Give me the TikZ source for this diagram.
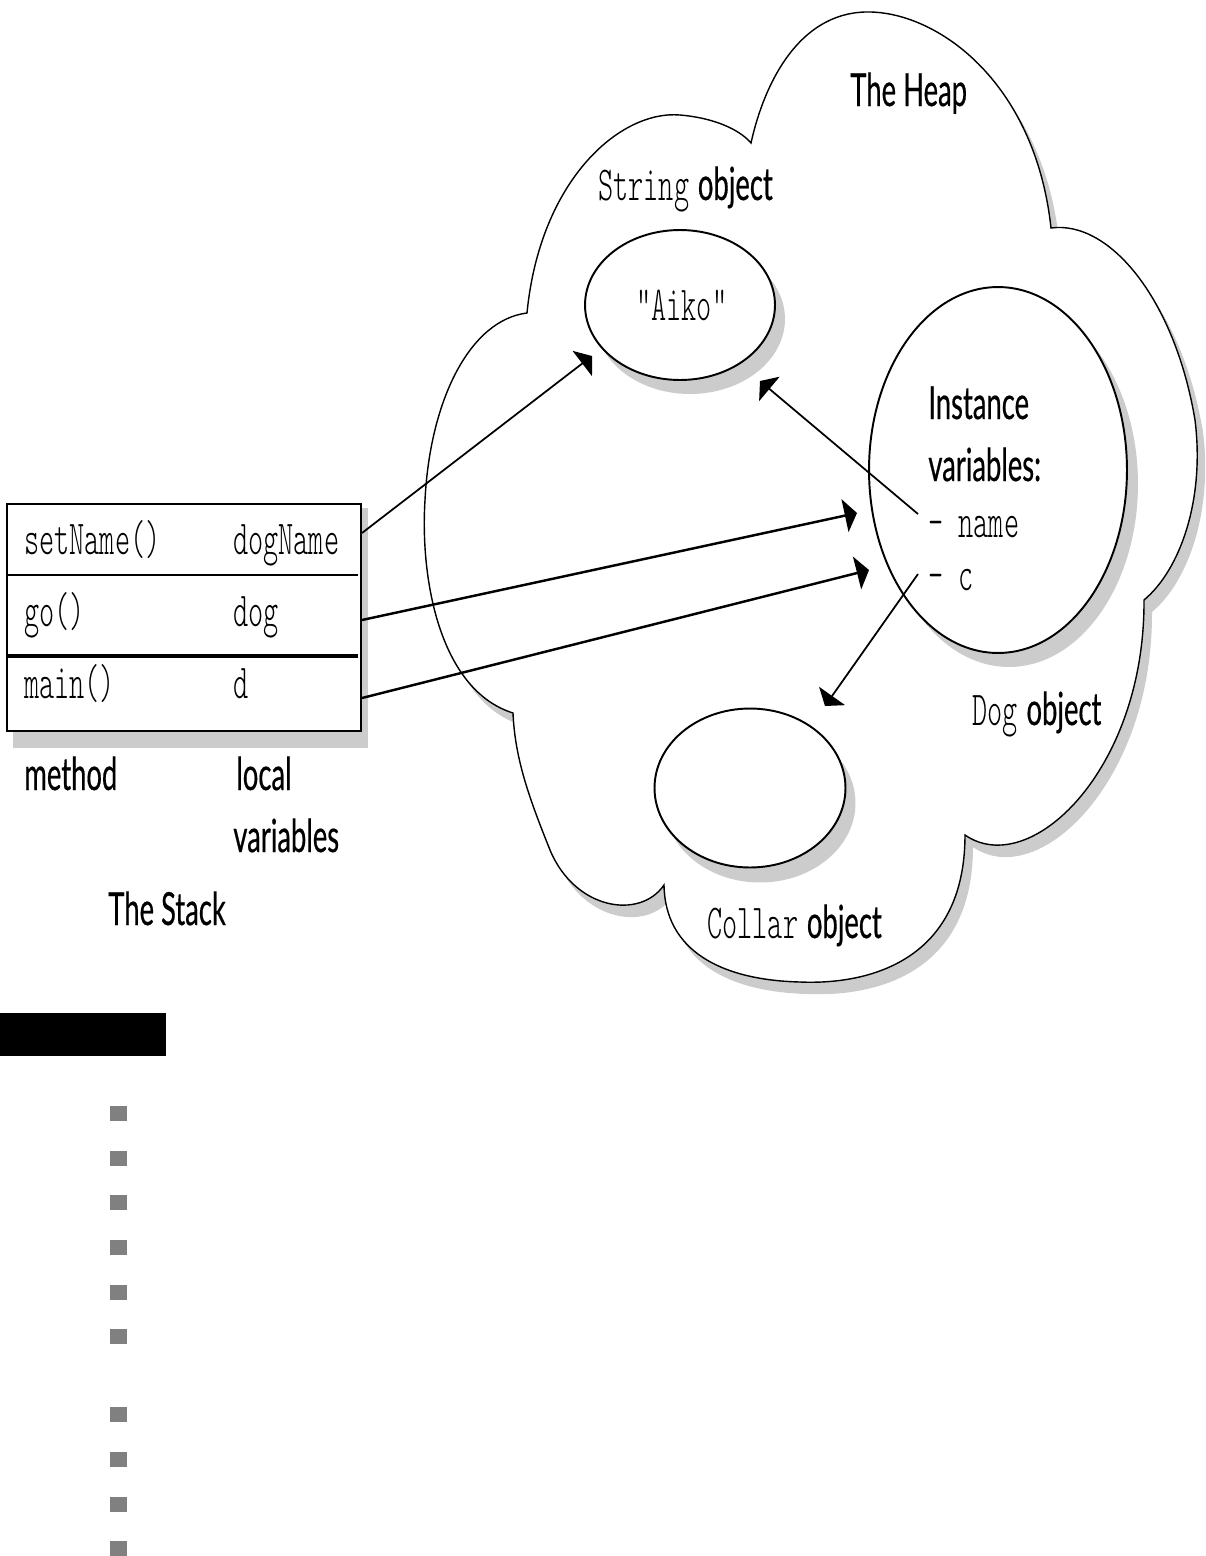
\documentclass[tikz,border=0pt]{standalone}
\usepackage{fontspec}
\setsansfont[FakeStretch=0.6, FakeBold=0.4]{Lato}
\setmonofont[FakeStretch=0.59]{lmmonolt10-regular.otf}
\usetikzlibrary{arrows.meta,shapes.geometric}
\definecolor{shadowgray}{gray}{0.8}
\definecolor{bulletgray}{gray}{0.5}
\def\cloudpath{(751,143) .. controls (765,80) and (800,14) .. (865,12)
 .. controls (935,10) and (1035,80) .. (1051,228)
 .. controls (1110,220) and (1175,300) .. (1195,420)
 .. controls (1205,500) and (1180,570) .. (1144,600)
 .. controls (1145,770) and (1030,880) .. (965,835)
 .. controls (965,960) and (870,985) .. (800,982)
 .. controls (720,980) and (665,950) .. (664,885)
 .. controls (640,920) and (575,910) .. (550,850)
 .. controls (530,800) and (515,760) .. (513,713)
 .. controls (440,690) and (420,580) .. (425,500)
 .. controls (430,400) and (470,320) .. (527,313)
 .. controls (540,180) and (620,110) .. (680,115)
 .. controls (715,118) and (740,130) .. (751,143) -- cycle}
\begin{document}
\begin{tikzpicture}[x=0.02cm,y=-0.02cm,
  sanslbl/.style={anchor=base west, inner sep=0, font={\sffamily\fontsize{26}{30}\selectfont}},
  monolbl/.style={anchor=base west, inner sep=0, font={\ttfamily\fontsize{27.8}{32}\selectfont}},
  objell/.style={ellipse, draw, fill=white, line width=1.1pt, inner sep=0},
  shadowell/.style={ellipse, fill=shadowgray, inner sep=0},
  ptr/.style={-{Triangle[length=7pt,width=18pt]}, line width=1pt},
  thickptr/.style={-{Triangle[length=7pt,width=19pt]}, line width=1.4pt},
  bullet/.style={fill=bulletgray, inner sep=0, minimum width=0.34cm, minimum height=0.3cm, anchor=north west}]
\useasboundingbox (0,0) rectangle (1205,1556);

% ---- heap cloud
\fill[shadowgray, shift={(8,12)}] \cloudpath;
\filldraw[fill=white, draw=black, line width=0.8pt] \cloudpath;

% ---- object ellipses with shadows
\node[shadowell, minimum width=3.8cm, minimum height=3cm] (aikoshadow) at (690,319) {};
\node[objell, minimum width=3.8cm, minimum height=3cm] (aiko) at (680,305) {};
\node[shadowell, minimum width=5.16cm, minimum height=7.32cm] (dogshadow) at (1009,484) {};
\node[objell, minimum width=5.16cm, minimum height=7.32cm] (dogobj) at (998,470) {};
\node[shadowell, minimum width=3.82cm, minimum height=3.18cm] (collarshadow) at (760,803) {};
\node[objell, minimum width=3.82cm, minimum height=3.18cm] (collar) at (750,788) {};

% ---- heap labels
\node[sanslbl] (heaplbl) at (850,106) {The Heap};
\node[monolbl] (strlbl) at (598,200) {String\hspace{5pt}{\sffamily\fontsize{26}{30}\selectfont object}};
\node[monolbl] (aikotxt) at (636,320) {"Aiko"};
\node[sanslbl] (inst) at (928,419) {Instance};
\node[sanslbl] (vars) at (928,481) {variables:};
\node[monolbl] (fname) at (928,537) {- name};
\node[monolbl] (fc) at (928,590) {- c};
\node[monolbl] (doglbl) at (972,725) {Dog\hspace{5pt}{\sffamily\fontsize{26}{30}\selectfont object}};
\node[monolbl] (collarlbl) at (707,938) {Collar\hspace{5pt}{\sffamily\fontsize{26}{30}\selectfont object}};

% ---- stack
\fill[shadowgray] (13,508) rectangle (368,748);
\node[draw, fill=white, line width=0.9pt, inner sep=0, anchor=north west,
      minimum width=7.08cm, minimum height=4.54cm] (stack) at (6,503) {};
\draw[line width=1.4pt] (6,575) -- (358,575);
\draw[line width=2.3pt] (6,656) -- (358,656);
\node[monolbl] (setname) at (24,554) {setName()};
\node[monolbl] (dognamev) at (233,554) {dogName};
\node[monolbl] (gom) at (24,626) {go()};
\node[monolbl] (dogv) at (233,626) {dog};
\node[monolbl] (mainm) at (24,698) {main()};
\node[monolbl] (dv) at (233,698) {d};
\node[sanslbl] (methodlbl) at (24,790) {method};
\node[sanslbl] (locallbl) at (236,790) {local};
\node[sanslbl] (varslbl) at (233,852) {variables};
\node[sanslbl] (stacklbl) at (108,925) {The Stack};

% ---- connector end points
\coordinate (sDogName) at (362,533);
\coordinate (sDog) at (362,620);
\coordinate (sD) at (362,698);
\coordinate (tAiko1) at (592,356);
\coordinate (sName) at (918,514);
\coordinate (tAiko2) at (760,381);
\coordinate (tDog1) at (857,513);
\coordinate (tDog2) at (869,570);
\coordinate (sC) at (918,574);
\coordinate (tCollar) at (825,706);

\draw[ptr] (sDogName) -- (tAiko1);
\draw[ptr] (sName) -- (tAiko2);
\draw[thickptr] (sDog) -- (tDog1);
\draw[thickptr] (sD) -- (tDog2);
\draw[ptr] (sC) -- (tCollar);

% ---- lower part
\node[fill=black, inner sep=0, minimum width=3.32cm, minimum height=0.86cm, anchor=north west] (bar) at (0,1013) {};
\foreach \yy [count=\i] in {1106,1151,1195,1240,1285,1329,1407,1452,1497,1541}
  \node[bullet] (b\i) at (110,\yy) {};
\end{tikzpicture}
\end{document}
